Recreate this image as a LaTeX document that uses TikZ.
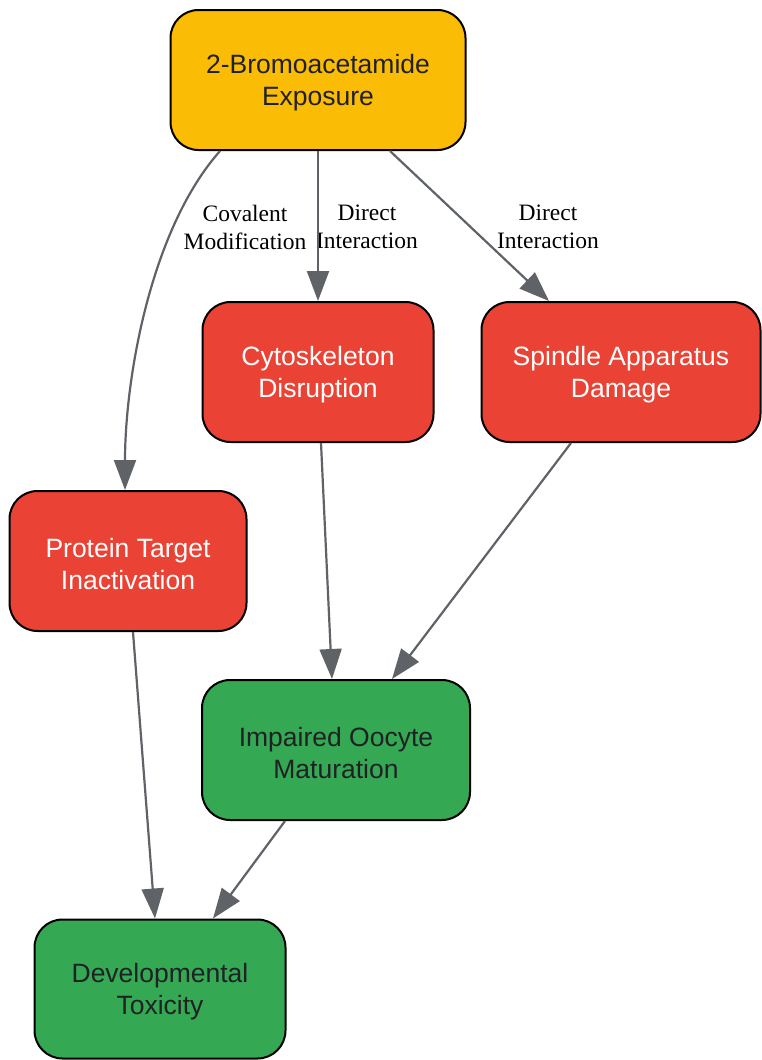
\documentclass[tikz,border=0pt]{standalone}
\usepackage{fontspec}
\setmainfont{Liberation Serif}
\newfontfamily\sansf{Liberation Sans}
\usetikzlibrary{arrows.meta}
\definecolor{cyellow}{HTML}{FBBC05}
\definecolor{cred}{HTML}{EA4335}
\definecolor{cgreen}{HTML}{34A853}
\definecolor{ctext}{HTML}{202124}
\definecolor{cedge}{HTML}{5F6368}
\tikzset{
  box/.style={rectangle, rounded corners=28pt, draw=black, line width=2pt, inner sep=0pt},
  ybox/.style={box, fill=cyellow},
  rbox/.style={box, fill=cred},
  gbox/.style={box, fill=cgreen},
  btext/.style={align=center, font=\sansf\fontsize{26.5}{32}\selectfont, inner sep=0pt, text=ctext},
  wtext/.style={btext, text=white},
  edge/.style={draw=cedge, line width=2.2pt, -{Triangle[length=30pt,width=22pt]}},
  elabel/.style={align=center, font=\fontsize{23.5}{28}\selectfont, text=black, inner sep=0pt}
}
\begin{document}
\begin{tikzpicture}[x=1pt,y=-1pt]
\useasboundingbox (0,0) rectangle (761,1060);
\node[ybox, minimum width=295pt, minimum height=140pt] (top) at (318,80) {};
\node[rbox, minimum width=279pt, minimum height=140pt] (spin) at (621,372) {};
\node[rbox, minimum width=231pt, minimum height=140pt] (cyto) at (318,372) {};
\node[rbox, minimum width=237pt, minimum height=140pt] (prot) at (128,561) {};
\node[gbox, minimum width=268pt, minimum height=140pt] (imp) at (336,750) {};
\node[gbox, minimum width=251pt, minimum height=139pt] (dev) at (160,989) {};

\node[btext] (topT) at ([yshift=-3pt]top.center) {2-Bromoacetamide\\Exposure};
\node[wtext] (spinT) at ([yshift=-3pt]spin.center) {Spindle Apparatus\\Damage};
\node[wtext] (cytoT) at ([yshift=-3pt]cyto.center) {Cytoskeleton\\Disruption};
\node[wtext] (protT) at ([yshift=-3pt]prot.center) {Protein Target\\Inactivation};
\node[btext] (impT) at ([yshift=-3pt]imp.center) {Impaired Oocyte\\Maturation};
\node[btext] (devT) at ([yshift=-3pt]dev.center) {Developmental\\Toxicity};

\node[elabel] (l1) at (245,227) {Covalent\\Modification};
\node[elabel] (l2) at (367,227) {Direct\\Interaction};
\node[elabel] (l3) at (548,227) {Direct\\Interaction};

\draw[edge] ([xshift=-98pt]top.south) .. controls (150,230) and (125,380) .. ([xshift=-3pt]prot.north);
\draw[edge] (top.south) -- (cyto.north);
\draw[edge] ([xshift=72pt]top.south) -- ([xshift=-72pt]spin.north);
\draw[edge] ([xshift=3pt]cyto.south) -- ([xshift=-4pt]imp.north);
\draw[edge] ([xshift=-50pt]spin.south) -- ([xshift=56pt]imp.north);
\draw[edge] ([xshift=5pt]prot.south) -- ([xshift=-5pt]dev.north);
\draw[edge] ([xshift=-51pt]imp.south) -- ([xshift=53pt]dev.north);
\end{tikzpicture}
\end{document}
